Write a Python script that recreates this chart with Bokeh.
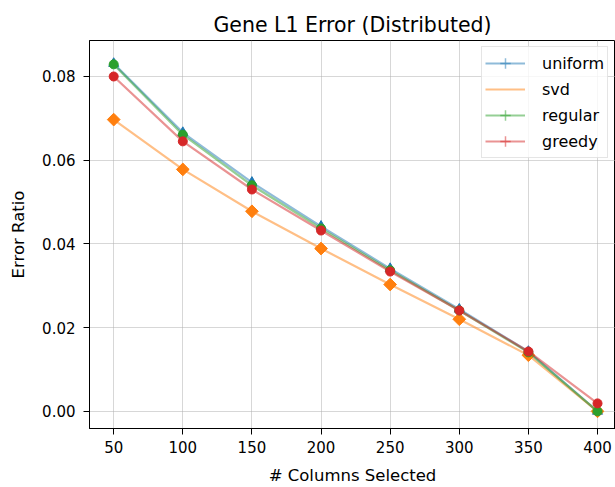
import math
from bokeh.plotting import figure
from bokeh.models import Range1d, Legend, LegendItem, FixedTicker, NumeralTickFormatter
from bokeh.embed import file_html
from bokeh.resources import INLINE

columns = [50, 100, 150, 200, 250, 300, 350, 400]
uniform = [0.0831, 0.0666, 0.0547, 0.0442, 0.0341, 0.0244, 0.0143, 0.0]
svd = [0.0697, 0.0578, 0.0478, 0.0389, 0.0303, 0.0220, 0.0134, 0.0]
regular = [0.0829, 0.0661, 0.0540, 0.0437, 0.0337, 0.0241, 0.0141, 0.0]
greedy = [0.0800, 0.0645, 0.0530, 0.0432, 0.0334, 0.0241, 0.0143, 0.0019]
x_ticks = [50, 100, 150, 200, 250, 300, 350, 400]
y_ticks = [0.0, 0.02, 0.04, 0.06, 0.08]

FONT = "DejaVu Sans"

p = figure(width=615, height=487, output_backend="svg", toolbar_location=None,
           x_range=Range1d(32.5, 413.0), y_range=Range1d(-0.0041, 0.0886),
           min_border_left=89, min_border_right=0, min_border_top=40, min_border_bottom=59,
           title="Gene L1 Error (Distributed)")

p.title.text_font = FONT
p.title.text_font_size = "20.5px"
p.title.text_font_style = "normal"
p.title.align = "center"
p.title.text_color = "#000000"
p.title.standoff = 8

p.outline_line_color = "#000000"
p.outline_line_width = 1
p.background_fill_color = "white"

for ax in (p.xaxis[0], p.yaxis[0]):
    ax.axis_line_color = "#000000"
    ax.major_tick_line_color = "#000000"
    ax.major_tick_out = 6
    ax.major_tick_in = 0
    ax.minor_tick_line_color = None
    ax.major_label_text_font = FONT
    ax.major_label_text_font_size = "15px"
    ax.major_label_text_color = "#000000"
    ax.axis_label_text_font = FONT
    ax.axis_label_text_font_size = "16.5px"
    ax.axis_label_text_font_style = "normal"
    ax.axis_label_text_color = "#000000"

p.xaxis[0].major_label_standoff = 6
p.yaxis[0].major_label_standoff = 8
p.xaxis[0].ticker = FixedTicker(ticks=x_ticks)
p.yaxis[0].ticker = FixedTicker(ticks=y_ticks)
p.yaxis[0].formatter = NumeralTickFormatter(format="0.00")
p.xaxis[0].axis_label = "# Columns Selected"
p.yaxis[0].axis_label = "Error Ratio"
p.xaxis[0].axis_label_standoff = 10
p.yaxis[0].axis_label_standoff = 11

p.grid.grid_line_color = "#b0b0b0"
p.grid.grid_line_alpha = 0.5
p.grid.grid_line_width = 1

series = [
    ("uniform", uniform, "#1f77b4", "triangle", 10, 0, True),
    ("svd", svd, "#ff7f0e", "square", 9, math.pi / 4, False),
    ("regular", regular, "#2ca02c", "circle", 9, 0, True),
    ("greedy", greedy, "#d62728", "circle", 9, 0, True),
]

items = []
for name, ys, color, marker, size, ang, has_err in series:
    ln = p.line(columns, ys, line_color=color, line_alpha=0.5, line_width=2.2)
    p.scatter(columns, ys, marker=marker, size=size, angle=ang, fill_color=color,
              line_color=color, fill_alpha=1.0, line_alpha=1.0)
    rends = [ln]
    if has_err:
        eb = p.scatter(columns, ys, marker="cross", size=18,
                       line_color=color, line_alpha=0.5, line_width=1.5, visible=False)
        rends.append(eb)
    items.append(LegendItem(label=name, renderers=rends))

legend = Legend(items=items, location=(392, 270))
legend.click_policy = "none"
legend.label_text_font = FONT
legend.label_text_font_size = "16px"
legend.label_text_color = "#000000"
legend.glyph_width = 40
legend.glyph_height = 26
legend.label_standoff = 17
legend.spacing = 0
legend.padding = 3
legend.margin = 0
legend.border_line_color = "#cccccc"
legend.border_line_width = 1
legend.background_fill_alpha = 0.8
p.add_layout(legend)

open("out.html", "w").write(file_html(p, INLINE))
